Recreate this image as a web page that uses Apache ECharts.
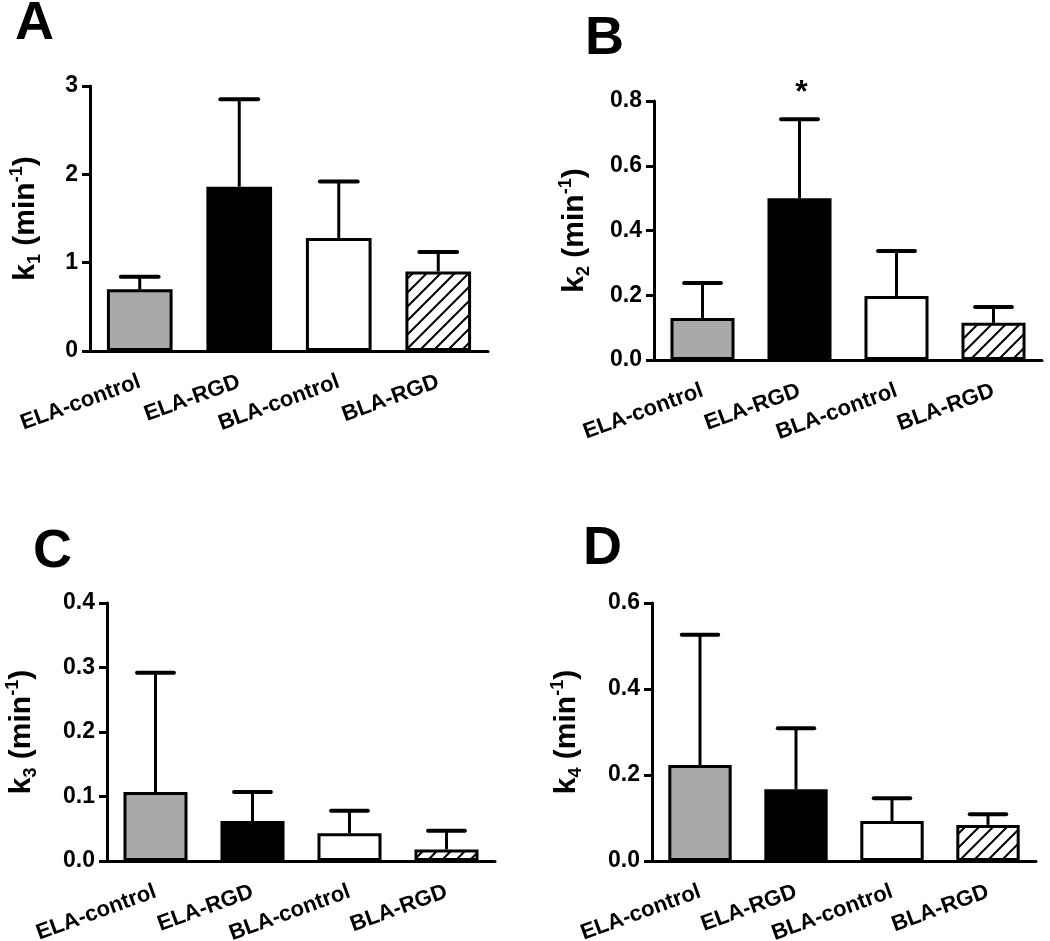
<!DOCTYPE html>
<html>
<head>
<meta charset="utf-8">
<script src="https://cdn.jsdelivr.net/npm/echarts@6/dist/echarts.min.js"></script>
<style>
html,body{margin:0;padding:0;background:#fff;}
#chart{width:1050px;height:941px;}
</style>
</head>
<body>
<div id="chart"></div>
<script>
// ---- data ----
const categories = ['ELA-control', 'ELA-RGD', 'BLA-control', 'BLA-RGD'];
const k1Mean = [0.70, 1.86, 1.28, 0.90];
const k1Err  = [0.14, 0.99, 0.64, 0.22];
const k2Mean = [0.130, 0.500, 0.198, 0.115];
const k2Err  = [0.108, 0.244, 0.139, 0.049];
const k3Mean = [0.107, 0.062, 0.043, 0.018];
const k3Err  = [0.185, 0.045, 0.035, 0.029];
const k4Mean = [0.223, 0.167, 0.093, 0.084];
const k4Err  = [0.303, 0.142, 0.053, 0.025];
const k2Significance = ['', '*', '', ''];
const panelLetters = ['A', 'B', 'C', 'D'];
const axisMax = [3, 0.8, 0.4, 0.6];
const axisStep = [1, 0.2, 0.1, 0.2];
const axisDecimals = [0, 1, 1, 1];
const subscripts = ['1', '2', '3', '4'];

// ---- styling / layout ----
const FONT = '"Liberation Sans", Arial, sans-serif';
const grids = [
  {left: 90,  top: 86,  width: 398, height: 265, outerBoundsMode: 'none', containLabel: false},
  {left: 654, top: 101, width: 388, height: 259, outerBoundsMode: 'none', containLabel: false},
  {left: 107, top: 603, width: 388, height: 258, outerBoundsMode: 'none', containLabel: false},
  {left: 652, top: 603, width: 384, height: 258, outerBoundsMode: 'none', containLabel: false}
];
const nameGaps = [46, 61, 67, 67];
const letterPos = [[15, 24], [585, 39], [33, 552], [583, 549]];

function hatchCanvas() {
  const s = 14;
  const c = document.createElement('canvas');
  c.width = s; c.height = s;
  const g = c.getContext('2d');
  g.fillStyle = '#fff'; g.fillRect(0, 0, s, s);
  g.strokeStyle = '#000'; g.lineWidth = 2;
  g.beginPath();
  g.moveTo(-2, s + 2); g.lineTo(s + 2, -2);
  g.moveTo(-s / 2 - 2, s / 2 + 2); g.lineTo(s / 2 + 2, -s / 2 - 2);
  g.moveTo(s / 2 - 2, s * 1.5 + 2); g.lineTo(s * 1.5 + 2, s / 2 - 2);
  g.stroke();
  return c;
}
const hatch = {image: hatchCanvas(), repeat: 'repeat'};
const fills = ['#a9a9a9', '#000000', '#ffffff', hatch];

const means = [k1Mean, k2Mean, k3Mean, k4Mean];
const errs = [k1Err, k2Err, k3Err, k4Err];
const sigs = [['', '', '', ''], k2Significance, ['', '', '', ''], ['', '', '', '']];

const xAxes = [], yAxes = [], series = [];
for (let p = 0; p < 4; p++) {
  xAxes.push({
    type: 'category', gridIndex: p, data: categories,
    axisLine: {lineStyle: {color: '#000', width: 3}},
    axisTick: {alignWithLabel: true, length: 8, lineStyle: {color: '#000', width: 3}},
    axisLabel: {rotate: 20, margin: 30, color: '#000', fontSize: 22, fontWeight: 'bold', fontFamily: FONT, interval: 0},
    splitLine: {show: false}
  });
  const dec = axisDecimals[p];
  yAxes.push({
    type: 'value', gridIndex: p, min: 0, max: axisMax[p], interval: axisStep[p],
    axisLine: {show: true, lineStyle: {color: '#000', width: 3}},
    axisTick: {show: true, length: 8, lineStyle: {color: '#000', width: 3}},
    axisLabel: {color: '#000', fontSize: 23, fontWeight: 'bold', fontFamily: FONT, margin: 12,
      formatter: v => v.toFixed(dec)},
    splitLine: {show: false},
    name: '{t|k}{s|' + subscripts[p] + '}{t| (min}{p|-1}{t|)}',
    nameLocation: 'middle', nameRotate: 90, nameGap: nameGaps[p],
    nameTextStyle: {
      color: '#000',
      rich: {
        t: {fontSize: 30, fontWeight: 'bold', fontFamily: FONT, color: '#000', lineHeight: 36},
        s: {fontSize: 18, fontWeight: 'bold', fontFamily: FONT, color: '#000', verticalAlign: 'bottom', lineHeight: 36},
        p: {fontSize: 18, fontWeight: 'bold', fontFamily: FONT, color: '#000', verticalAlign: 'top', lineHeight: 22}
      }
    }
  });
  series.push({
    type: 'bar', xAxisIndex: p, yAxisIndex: p, barWidth: '66%',
    data: means[p].map((v, i) => ({value: v, itemStyle: {color: fills[i]}})),
    itemStyle: {borderColor: '#000', borderWidth: 3},
    emphasis: {disabled: true}, silent: true, z: 2
  });
  const sigArr = sigs[p];
  series.push({
    type: 'custom', xAxisIndex: p, yAxisIndex: p, silent: true, z: 3,
    data: means[p].map((v, i) => [i, v, v + errs[p][i]]),
    encode: {x: 0, y: [1, 2]},
    renderItem: function (params, api) {
      const i = api.value(0);
      const base = api.coord([i, api.value(1)]);
      const top = api.coord([i, api.value(2)]);
      const bw = api.size([1, 0])[0];
      const hw = bw * 0.19;
      const children = [
        {type: 'line', shape: {x1: base[0], y1: base[1], x2: top[0], y2: top[1]}, style: {stroke: '#000', lineWidth: 3}},
        {type: 'line', shape: {x1: top[0] - hw, y1: top[1], x2: top[0] + hw, y2: top[1]}, style: {stroke: '#000', lineWidth: 4, lineCap: 'round'}}
      ];
      const s = sigArr[params.dataIndex];
      if (s) {
        children.push({type: 'text', style: {text: s, x: top[0] + 2, y: top[1] - 26, align: 'center', verticalAlign: 'middle',
          font: 'bold 32px ' + FONT, fill: '#000'}});
      }
      return {type: 'group', children: children};
    }
  });
}

const graphics = panelLetters.map((L, i) => ({
  type: 'text', x: letterPos[i][0], y: letterPos[i][1],
  style: {text: L, font: 'bold 54px ' + FONT, fill: '#000', align: 'left', verticalAlign: 'middle'}
}));

const chart = echarts.init(document.getElementById('chart'), null, {renderer: 'canvas'});
chart.setOption({
  animation: false,
  backgroundColor: '#fff',
  grid: grids,
  xAxis: xAxes,
  yAxis: yAxes,
  series: series,
  graphic: graphics
});
</script>
</body>
</html>
